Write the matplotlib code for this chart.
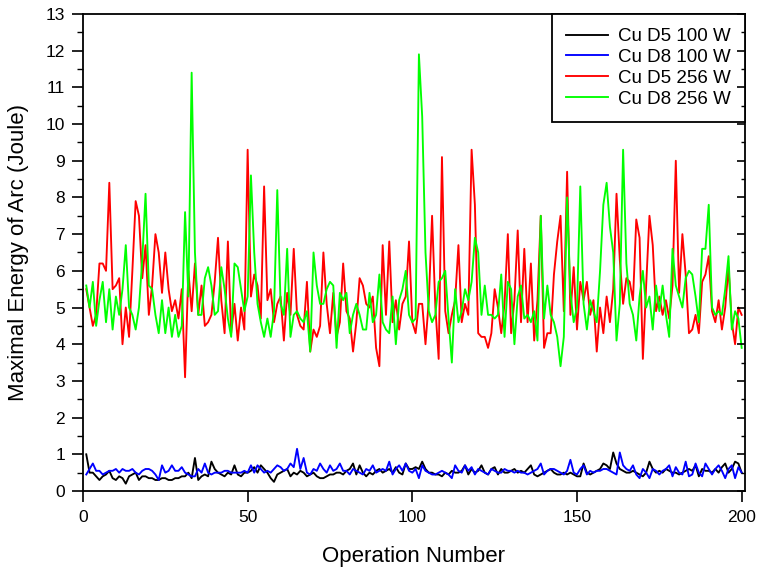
import numpy as np
import matplotlib
matplotlib.use("Agg")
import matplotlib.pyplot as plt
from matplotlib.ticker import MultipleLocator

plt.rcParams['font.family'] = ['Liberation Sans', 'DejaVu Sans']

# operation number 1..200
ops = np.arange(1, 201)

cu_d5_100 = [
    1.0, 0.5, 0.5, 0.4, 0.3, 0.4, 0.45, 0.55, 0.35, 0.3,
    0.4, 0.35, 0.2, 0.4, 0.45, 0.5, 0.3, 0.4, 0.4, 0.35,
    0.35, 0.3, 0.3, 0.35, 0.35, 0.3, 0.3, 0.35, 0.35, 0.4,
    0.4, 0.5, 0.35, 0.9, 0.3, 0.4, 0.45, 0.4, 0.8, 0.6,
    0.5, 0.45, 0.4, 0.5, 0.45, 0.7, 0.45, 0.4, 0.5, 0.5,
    0.55, 0.65, 0.5, 0.7, 0.6, 0.5, 0.35, 0.25, 0.45, 0.5,
    0.55, 0.6, 0.4, 0.5, 0.45, 0.55, 0.5, 0.4, 0.45, 0.5,
    0.4, 0.35, 0.35, 0.4, 0.45, 0.45, 0.5, 0.5, 0.45, 0.55,
    0.6, 0.75, 0.45, 0.7, 0.5, 0.4, 0.5, 0.45, 0.55, 0.6,
    0.5, 0.55, 0.6, 0.5, 0.65, 0.5, 0.45, 0.75, 0.6, 0.6,
    0.65, 0.6, 0.8, 0.6, 0.5, 0.5, 0.45, 0.45, 0.4, 0.5,
    0.45, 0.55, 0.5, 0.5, 0.55, 0.7, 0.45, 0.6, 0.5, 0.55,
    0.7, 0.5, 0.45, 0.6, 0.65, 0.45, 0.6, 0.5, 0.5, 0.55,
    0.6, 0.5, 0.55, 0.5, 0.6, 0.7, 0.45, 0.4, 0.45, 0.5,
    0.55, 0.6, 0.5, 0.45, 0.45, 0.5, 0.45, 0.5, 0.45, 0.4,
    0.4, 0.75, 0.5, 0.45, 0.5, 0.55, 0.6, 0.75, 0.7, 0.6,
    1.05, 0.75, 0.6, 0.55, 0.5, 0.5, 0.55, 0.5, 0.45, 0.4,
    0.5, 0.8, 0.6, 0.5, 0.55, 0.5, 0.6, 0.55, 0.5, 0.5,
    0.45, 0.5, 0.55, 0.6, 0.55, 0.7, 0.4, 0.6, 0.55, 0.55,
    0.5, 0.6, 0.5, 0.65, 0.75, 0.5, 0.6, 0.8, 0.75, 0.5,
]

cu_d8_100 = [
    0.45, 0.6, 0.75, 0.55, 0.55, 0.45, 0.5, 0.55, 0.55, 0.6,
    0.5, 0.6, 0.55, 0.55, 0.6, 0.5, 0.45, 0.55, 0.6, 0.6,
    0.55, 0.45, 0.3, 0.7, 0.5, 0.55, 0.7, 0.55, 0.55, 0.65,
    0.5, 0.45, 0.4, 0.4, 0.6, 0.5, 0.75, 0.5, 0.45, 0.5,
    0.5, 0.5, 0.55, 0.55, 0.5, 0.5, 0.5, 0.5, 0.55, 0.5,
    0.7, 0.5, 0.7, 0.6, 0.5, 0.55, 0.5, 0.6, 0.7, 0.65,
    0.55, 0.6, 0.75, 0.65, 1.15, 0.6, 0.9, 0.5, 0.45, 0.6,
    0.55, 0.75, 0.6, 0.5, 0.7, 0.55, 0.6, 0.75, 0.55, 0.55,
    0.45, 0.6, 0.55, 0.5, 0.45, 0.6, 0.55, 0.7, 0.5, 0.55,
    0.6, 0.55, 0.8, 0.45, 0.6, 0.7, 0.55, 0.75, 0.55, 0.5,
    0.6, 0.35, 0.7, 0.55, 0.5, 0.45, 0.45, 0.5, 0.55, 0.5,
    0.45, 0.35, 0.7, 0.55, 0.5, 0.7, 0.55, 0.65, 0.45, 0.6,
    0.55, 0.5, 0.45, 0.6, 0.55, 0.5, 0.5, 0.6, 0.55, 0.55,
    0.5, 0.55, 0.5, 0.5, 0.45, 0.5, 0.55, 0.6, 0.75, 0.45,
    0.55, 0.6, 0.6, 0.55, 0.5, 0.45, 0.55, 0.85, 0.5, 0.45,
    0.6, 0.7, 0.45, 0.55, 0.5, 0.55, 0.55, 0.6, 0.6, 0.55,
    0.5, 0.45, 1.05, 0.7, 0.6, 0.55, 0.7, 0.45, 0.35, 0.6,
    0.5, 0.35, 0.6, 0.55, 0.45, 0.55, 0.6, 0.7, 0.4, 0.65,
    0.5, 0.45, 0.8, 0.4, 0.45, 0.75, 0.5, 0.4, 0.75, 0.6,
    0.45, 0.6, 0.7, 0.55, 0.35, 0.6, 0.7, 0.35, 0.65, 0.5,
]

cu_d5_256 = [
    5.5, 5.0, 4.5, 4.8, 6.2, 6.2, 6.0, 8.4, 5.5, 5.6,
    5.8, 4.0, 5.0, 4.2, 6.0, 7.9, 7.5, 5.8, 6.7, 4.8,
    5.6, 7.0, 6.5, 5.4, 6.5, 5.5, 4.9, 5.2, 4.7, 5.5,
    3.1, 6.0, 4.9, 6.2, 4.8, 5.6, 4.5, 4.6, 4.8, 5.7,
    6.9, 5.2, 4.3, 6.8, 4.3, 5.1, 4.1, 5.0, 4.4, 9.3,
    5.3, 5.9, 5.6, 4.7, 8.3, 5.2, 5.5, 4.6, 5.1, 5.3,
    4.1, 5.4, 4.8, 6.6, 4.8, 4.5, 4.4, 5.7, 3.8, 4.4,
    4.2, 4.5, 6.5, 5.1, 4.3, 5.4, 4.2, 4.6, 6.2, 4.9,
    4.7, 3.8, 4.6, 5.8, 5.6, 5.1, 5.0, 5.3, 3.9, 3.4,
    6.7, 4.8, 6.8, 4.6, 5.2, 4.4, 5.1, 5.3, 6.8, 4.6,
    4.3, 5.1, 5.1, 4.0, 5.2, 7.5, 5.0, 3.6, 9.1, 4.9,
    4.3, 4.8, 5.2, 6.7, 4.6, 5.1, 4.8, 9.3, 7.8, 4.3,
    4.2, 4.2, 3.9, 4.3, 5.5, 5.0, 4.3, 5.1, 7.0, 4.3,
    5.2, 7.1, 4.6, 6.6, 4.6, 6.2, 4.1, 5.2, 7.5, 3.9,
    4.3, 4.3, 5.9, 6.8, 7.5, 4.9, 8.7, 4.8, 6.1, 4.4,
    5.7, 5.2, 5.7, 4.8, 5.2, 3.8, 5.0, 4.3, 5.3, 4.6,
    5.5, 8.1, 6.3, 5.1, 5.8, 5.7, 5.2, 7.4, 6.9, 3.6,
    5.6, 7.5, 6.7, 4.9, 5.3, 4.8, 5.2, 4.7, 5.6, 9.0,
    5.4, 7.0, 5.9, 4.3, 4.4, 4.8, 4.3, 5.7, 5.9, 6.4,
    4.9, 4.6, 5.2, 4.4, 5.0, 6.1, 4.6, 4.0, 5.0, 4.8,
]

cu_d8_256 = [
    5.6, 5.0, 5.7, 4.5, 5.2, 5.7, 4.6, 5.5, 4.4, 5.3,
    4.8, 5.5, 6.7, 5.0, 4.8, 4.4, 5.0, 6.3, 8.1, 5.6,
    5.5, 4.8, 4.3, 5.2, 4.3, 5.0, 4.2, 4.8, 4.2, 4.5,
    7.6, 5.3, 11.4, 6.5, 4.8, 4.8, 5.8, 6.1, 5.6, 4.8,
    4.9, 6.1, 5.5, 4.7, 4.2, 6.2, 6.1, 5.5, 4.9, 5.3,
    8.6, 6.5, 5.1, 4.6, 4.2, 4.7, 4.2, 4.9, 8.2, 5.1,
    4.8, 6.6, 4.2, 4.8, 4.9, 4.7, 4.6, 4.9, 3.8, 6.5,
    5.6, 5.1, 5.1, 5.5, 5.7, 5.6, 3.9, 5.4, 5.2, 5.4,
    4.3, 4.8, 5.1, 4.8, 4.4, 4.4, 5.4, 4.6, 4.8, 5.9,
    4.6, 4.4, 4.3, 5.3, 4.0, 5.2, 5.5, 6.0, 4.8, 4.6,
    4.7, 11.9, 10.2, 6.5, 4.9, 4.6, 4.8, 5.7, 5.8, 6.0,
    4.7, 3.5, 5.5, 4.6, 4.9, 5.5, 5.2, 5.7, 6.9, 6.5,
    4.8, 5.6, 4.8, 4.8, 4.7, 4.8, 5.9, 4.2, 5.7, 5.5,
    4.0, 5.3, 5.6, 4.7, 4.8, 4.6, 4.9, 4.1, 7.5, 4.7,
    5.6, 4.8, 4.6, 4.2, 3.4, 4.2, 8.0, 5.4, 4.6, 5.0,
    8.3, 5.1, 4.4, 5.2, 4.9, 4.6, 6.0, 7.8, 8.4, 7.2,
    6.5, 4.1, 5.1, 9.3, 6.2, 5.1, 4.8, 4.1, 5.3, 6.0,
    5.0, 5.3, 4.4, 5.6, 4.9, 5.6, 4.8, 4.2, 6.6, 5.6,
    5.3, 5.0, 5.8, 6.0, 5.9, 5.3, 4.6, 6.6, 6.6, 7.8,
    5.0, 4.8, 4.9, 4.8, 5.5, 6.4, 4.4, 4.9, 4.7, 3.9,
]

labels = ['Cu D5 100 W', 'Cu D8 100 W', 'Cu D5 256 W', 'Cu D8 256 W']
colors = ['black', '#0000ff', '#ff0000', '#00ff00']

fig = plt.figure(figsize=(7.57, 5.72), dpi=100)
ax = fig.add_axes([0.1096, 0.1416, 0.8745, 0.834])

for ys, lab, c in zip([cu_d5_100, cu_d8_100, cu_d5_256, cu_d8_256], labels, colors):
    ax.plot(ops, ys, color=c, linewidth=1.35, label=lab)

ax.set_xlim(0, 201)
ax.set_ylim(0, 13)
ax.xaxis.set_major_locator(MultipleLocator(50))
ax.yaxis.set_major_locator(MultipleLocator(1))
ax.yaxis.set_minor_locator(MultipleLocator(0.5))
ax.tick_params(axis='both', which='major', direction='out', length=8, width=1.2,
               labelsize=12.5, colors='black')
ax.tick_params(axis='x', which='major', pad=6)
ax.tick_params(axis='y', which='major', pad=5)
ax.tick_params(axis='y', which='minor', direction='out', length=4, width=1)
for sp in ax.spines.values():
    sp.set_linewidth(1.3)

# inward ticks along the right spine
rax = ax.twinx()
rax.set_ylim(0, 13)
rax.yaxis.set_major_locator(MultipleLocator(1))
rax.yaxis.set_minor_locator(MultipleLocator(0.5))
rax.tick_params(axis='y', which='major', direction='in', length=6, width=1.2, labelright=False)
rax.tick_params(axis='y', which='minor', direction='in', length=3, width=1)
for sp in rax.spines.values():
    sp.set_visible(False)

ax.set_xlabel('Operation Number', fontsize=16)
ax.set_ylabel('Maximal Energy of Arc (Joule)', fontsize=16)
ax.xaxis.set_label_coords(0.5, -0.115)
ax.yaxis.set_label_coords(-0.082, 0.5)

leg = ax.legend(loc='upper right', borderaxespad=0, fontsize=13.5, fancybox=False,
                framealpha=1, edgecolor='black', handlelength=2.2, labelspacing=0.2,
                borderpad=0.75, handletextpad=0.55)
leg.get_frame().set_linewidth(1.3)
leg.set_zorder(5)

fig.savefig('out.png', dpi=100)
